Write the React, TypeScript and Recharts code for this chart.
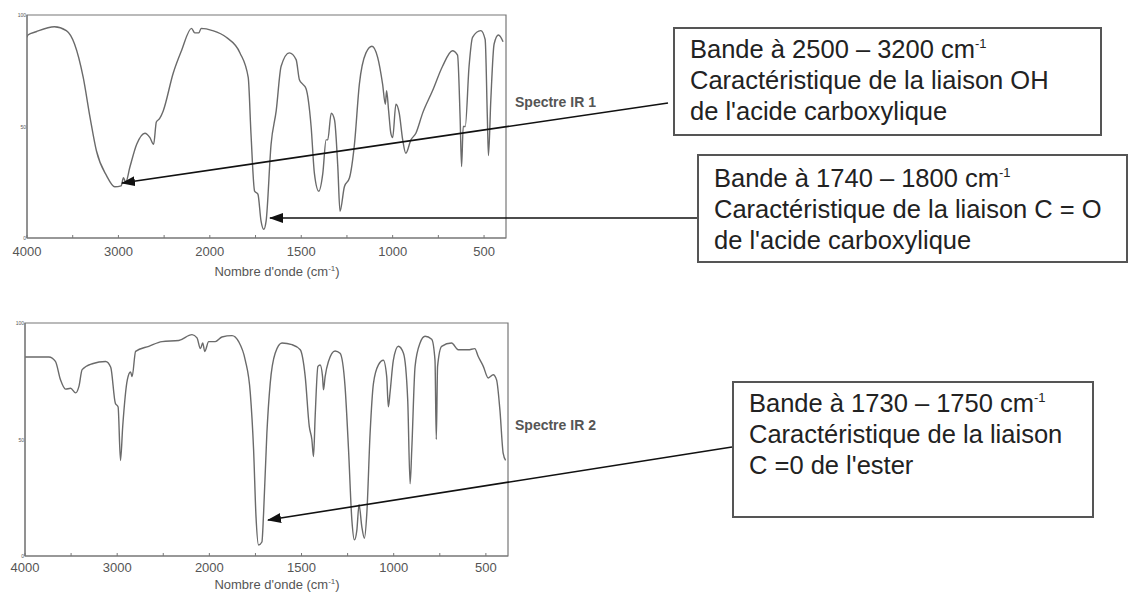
import { LineChart, Line, XAxis, YAxis, ReferenceArea } from "recharts";

// wavenumbers (cm-1) and transmittance (%)
const spectrum1Wn = [
  4000, 3990, 3900, 3700, 3570, 3480, 3385, 3310, 3240, 3130, 3040, 2970, 2945, 2920, 2875, 2800, 2710,
  2655, 2615, 2585, 2550, 2510, 2400, 2310, 2200, 2165, 2120, 2095, 1985, 1910, 1835, 1790, 1775, 1755,
  1737, 1720, 1705, 1692, 1665, 1637, 1610, 1565, 1528, 1510, 1492, 1474, 1446, 1428, 1404, 1382, 1364,
  1355, 1336, 1318, 1300, 1288, 1264, 1236, 1209, 1182, 1146, 1113, 1082, 1055, 1040, 1033, 1022, 1010,
  1000, 982, 964, 945, 928, 900, 873, 836, 782, 727, 673, 645, 631, 623, 614, 603, 582, 563, 518, 494,
  482, 476, 463, 445, 421, 396,
];
const spectrum1T = [
  90, 91, 92.5, 94.7, 93, 87, 72, 54, 39, 28, 23, 23.4, 27, 25, 31.7, 42, 47,
  45, 42, 52, 53.5, 57, 74, 84, 94, 92, 92, 94, 93, 90, 83, 72, 47, 21,
  19.7, 7.7, 3.9, 7.7, 42, 57, 77, 83, 80, 71, 69, 67, 50, 29, 21, 29, 44,
  44, 56, 53, 32, 12, 23, 27, 42, 69, 83, 86, 81, 69, 60, 66, 57, 47,
  45, 60, 56, 44, 38, 44, 47, 56, 66, 77, 84, 82, 54, 32, 50, 50, 77, 90, 93, 89,
  54, 37, 62, 87, 91, 88,
];

const spectrum2Wn = [
  4000, 3740, 3670, 3615, 3560, 3505, 3450, 3415, 3380, 3270, 3125, 3070, 3020, 2990, 2964, 2940, 2890,
  2855, 2838, 2800, 2657, 2513, 2332, 2188, 2134, 2097, 2072, 2050, 2007, 1968, 1932, 1877, 1841, 1805,
  1778, 1760, 1747, 1733, 1715, 1706, 1688, 1670, 1643, 1606, 1552, 1507, 1480, 1458, 1444, 1435, 1426,
  1411, 1399, 1386, 1381, 1372, 1354, 1318, 1291, 1264, 1245, 1227, 1213, 1200, 1188, 1173, 1159, 1146,
  1128, 1110, 1083, 1056, 1038, 1029, 1020, 1002, 975, 947, 924, 911, 902, 884, 857, 830, 794, 776, 769,
  762, 740, 686, 650, 596, 560, 542, 514, 487, 460, 442, 424, 406, 393,
];
const spectrum2T = [
  85.4, 85.4, 83.5, 75.6, 71.6, 72, 70, 72.8, 80, 82.5, 83.5, 81, 65.6, 64, 41, 55.6, 75.6,
  79, 77, 87.8, 90, 92, 92.5, 95, 93.6, 89, 91.4, 87.8, 92, 92, 94, 94.6, 92, 84,
  70, 45.6, 17, 4.7, 6, 18, 52.7, 74, 87, 91.4, 90.7, 88.5, 77, 55.6, 50, 42.7, 60,
  81.4, 82, 77, 71.3, 77, 83.5, 88, 87, 72.8, 45.6, 15.5, 6.9, 11, 22, 12.6, 7.6, 18,
  52.7, 74, 82, 84, 77, 64, 70, 84, 90, 87, 67, 31, 45.6, 81.4, 91.4, 94.3, 93, 84, 50,
  81.4, 90, 91.4, 88.5, 88.5, 89, 85.7, 81.4, 76.4, 77.8, 75.6, 62.8, 44, 41,
];

// axis: 4000-2000 at 1000 cm-1 per unit, below 2000 at 500 cm-1 per unit
const tickValues = [0, 0.5, 1, 1.5, 2, 2.5, 3, 3.5, 4, 4.5, 5];
const tickLabels = ["4000", "3000", "2000", "1500", "1000", "500"];
const yTicks = [0, 50, 100];

const toU = (wn: number) => (wn >= 2000 ? (4000 - wn) / 1000 : 2 + (2000 - wn) / 500);
const U_MAX = toU(380);

const build = (wn: number[], t: number[]) => wn.map((w, i) => ({ u: toU(w), t: t[i] }));

const FONT = "'Liberation Sans', Arial, sans-serif";

function XTick(props: any) {
  const { x, y, payload, labelOffset } = props;
  const v = payload.value;
  const major = Number.isInteger(v);
  return (
    <g>
      <line x1={x} x2={x} y1={y} y2={y - 3} stroke="#777" strokeWidth={1} />
      {major && (
        <text x={x} y={y + labelOffset} textAnchor="middle" fontSize={13} fill="#555" fontFamily={FONT}>
          {tickLabels[v]}
        </text>
      )}
    </g>
  );
}

function YTick(props: any) {
  const { x, y, payload } = props;
  return (
    <text x={x - 1} y={y + 2} textAnchor="end" fontSize={5} fill="#555" fontFamily={FONT}>
      {payload.value}
    </text>
  );
}

function Spectrum({ data, top, left, height, plotTop, plotBottom, plotRight, labelOffset }: any) {
  return (
    <div style={{ position: "absolute", left: 0, top }}>
      <LineChart
        width={530}
        height={height}
        data={data}
        margin={{ top: plotTop, right: 530 - plotRight, left: 0, bottom: 0 }}
      >
        <XAxis
          type="number"
          dataKey="u"
          domain={[0, U_MAX]}
          ticks={tickValues}
          interval={0}
          tick={<XTick labelOffset={labelOffset} />}
          tickLine={false}
          tickSize={0}
          tickMargin={0}
          axisLine={{ stroke: "#777" }}
          height={height - plotBottom}
          allowDataOverflow
        />
        <YAxis
          type="number"
          domain={[0, 100]}
          ticks={yTicks}
          tick={<YTick />}
          tickLine={false}
          tickSize={0}
          tickMargin={0}
          axisLine={{ stroke: "#777" }}
          width={left}
        />
        <ReferenceArea x1={0} x2={U_MAX} y1={0} y2={100} fill="none" stroke="#777" strokeWidth={1.2} />
        <Line
          dataKey="t"
          type="monotone"
          stroke="#6a6a6a"
          strokeWidth={1.4}
          dot={false}
          isAnimationActive={false}
        />
      </LineChart>
    </div>
  );
}

const boxStyle = (left: number, top: number, width: number, height: number, pad: number) => ({
  position: "absolute" as const,
  left,
  top,
  width,
  height,
  boxSizing: "border-box" as const,
  border: "2px solid #555",
  paddingTop: pad,
  paddingLeft: 15,
  fontFamily: FONT,
  fontSize: 25.5,
  lineHeight: "31px",
  color: "#222",
  background: "#fff",
  whiteSpace: "nowrap" as const,
});

const supStyle = { fontSize: 13, verticalAlign: "top", lineHeight: "20px" };

const titleStyle = (top: number) => ({
  position: "absolute" as const,
  left: 277,
  top,
  transform: "translateX(-50%)",
  fontFamily: FONT,
  fontSize: 13,
  lineHeight: "13px",
  color: "#555",
  whiteSpace: "nowrap" as const,
});

const labelStyle = (top: number) => ({
  position: "absolute" as const,
  left: 515,
  top,
  fontFamily: FONT,
  fontSize: 14,
  fontWeight: 700,
  color: "#555",
});

export default function App() {
  const d1 = build(spectrum1Wn, spectrum1T);
  const d2 = build(spectrum2Wn, spectrum2T);
  return (
    <div style={{ position: "absolute", left: 0, top: 0, width: 1130, height: 592, background: "#fff", overflow: "hidden" }}>
      <Spectrum data={d1} top={0} left={27} height={290} plotTop={15} plotBottom={238} plotRight={506} labelOffset={18} />
      <Spectrum data={d2} top={300} left={25} height={292} plotTop={23} plotBottom={256} plotRight={508} labelOffset={16} />

      <div style={titleStyle(265)}>
        Nombre d'onde (cm<sup style={{ fontSize: 8, lineHeight: 0 }}>-1</sup>)
      </div>
      <div style={titleStyle(578)}>
        Nombre d'onde (cm<sup style={{ fontSize: 8, lineHeight: 0 }}>-1</sup>)
      </div>
      <div style={labelStyle(94)}>Spectre IR 1</div>
      <div style={labelStyle(417)}>Spectre IR 2</div>

      <div style={boxStyle(673, 27, 429, 109, 5)}>
        <div>
          Bande à 2500 – 3200 cm<span style={supStyle}>-1</span>
        </div>
        <div>Caractéristique de la liaison OH</div>
        <div>de l'acide carboxylique</div>
      </div>
      <div style={boxStyle(697, 154, 431, 109, 7)}>
        <div>
          Bande à 1740 – 1800 cm<span style={supStyle}>-1</span>
        </div>
        <div>Caractéristique de la liaison C = O</div>
        <div>de l'acide carboxylique</div>
      </div>
      <div style={boxStyle(732, 381, 362, 137, 5)}>
        <div>
          Bande à 1730 – 1750 cm<span style={supStyle}>-1</span>
        </div>
        <div>Caractéristique de la liaison</div>
        <div>C =0 de l'ester</div>
      </div>

      <svg width={1130} height={592} style={{ position: "absolute", left: 0, top: 0, pointerEvents: "none" }}>
        <defs>
          <marker id="head" markerWidth={14} markerHeight={10} refX={13} refY={5} orient="auto" markerUnits="userSpaceOnUse">
            <path d="M0,0 L14,5 L0,10 Z" fill="#111" />
          </marker>
        </defs>
        <line x1={668} y1={103} x2={122} y2={183} stroke="#111" strokeWidth={1.6} markerEnd="url(#head)" />
        <line x1={697} y1={218} x2={270} y2={218} stroke="#111" strokeWidth={1.6} markerEnd="url(#head)" />
        <line x1={732} y1={447} x2={268} y2={520} stroke="#111" strokeWidth={1.6} markerEnd="url(#head)" />
      </svg>
    </div>
  );
}
